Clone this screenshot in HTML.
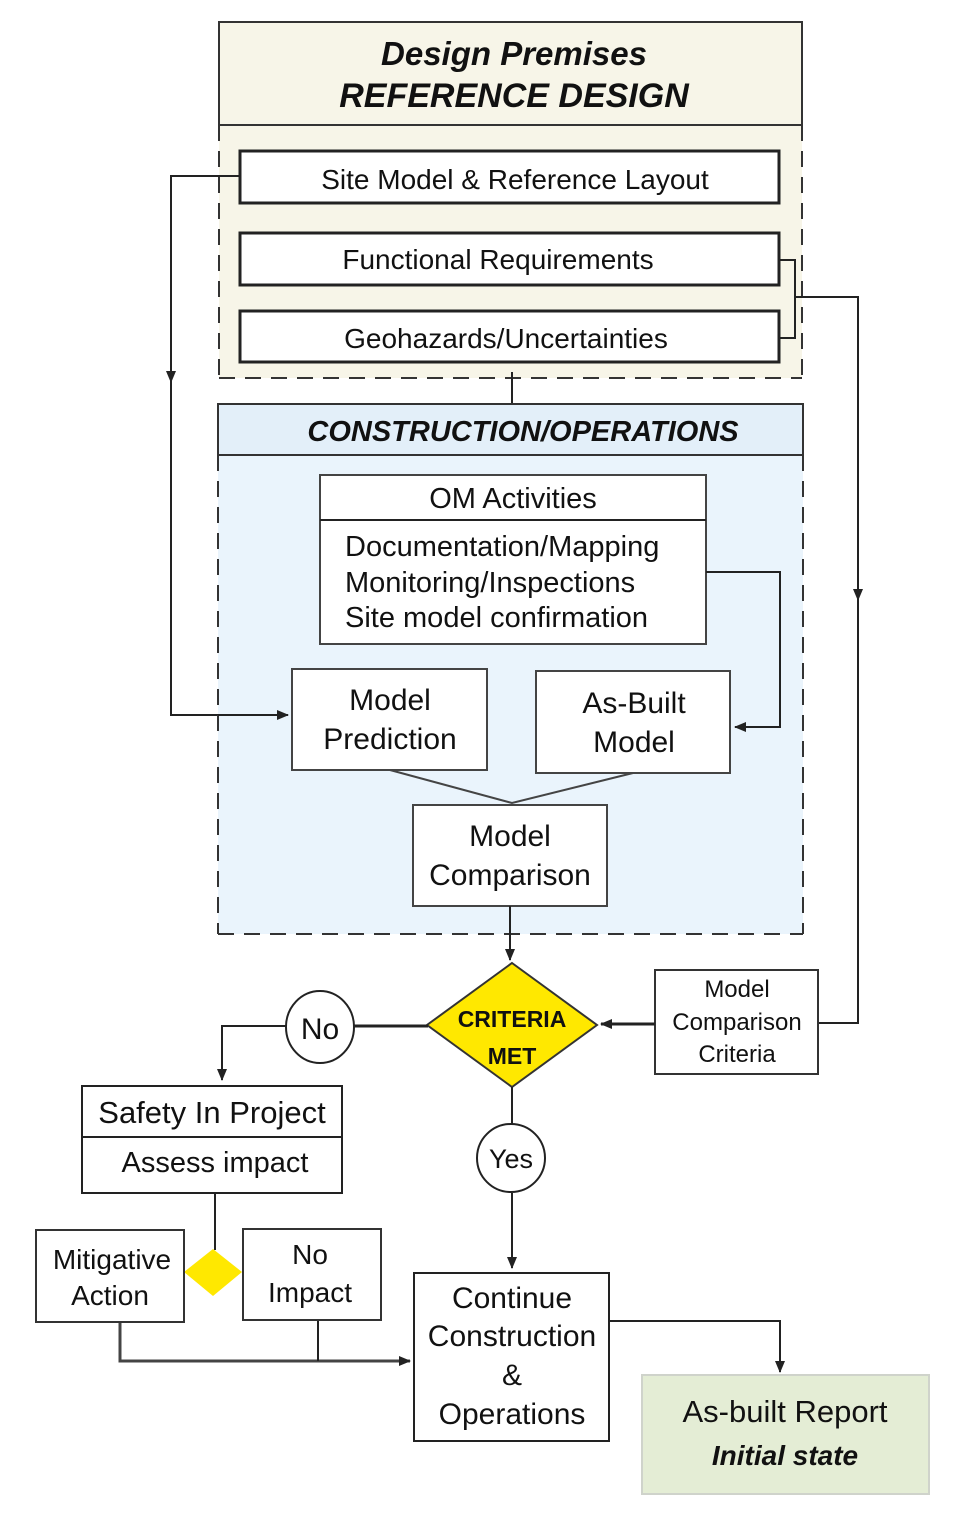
<!DOCTYPE html>
<html><head><meta charset="utf-8"><style>
html,body{margin:0;padding:0;background:#fff}
svg{display:block}
text{font-family:"Liberation Sans",sans-serif;fill:#111}
</style></head><body>
<svg width="967" height="1524" viewBox="0 0 967 1524" xmlns="http://www.w3.org/2000/svg">
<defs><marker id="a" markerWidth="12" markerHeight="10" refX="11" refY="5" orient="auto" markerUnits="userSpaceOnUse"><path d="M0,0 L12,5 L0,10 Z" fill="#222"/></marker></defs>
<!-- Top panel -->
<rect x="219" y="22" width="583" height="356" fill="#f7f5e8"/>
<rect x="219" y="22" width="583" height="103" fill="#f7f5e8" stroke="#333" stroke-width="2"/>
<g stroke="#333" stroke-width="2" stroke-dasharray="16,10" fill="none">
<line x1="219" y1="125" x2="219" y2="378"/><line x1="802" y1="125" x2="802" y2="378"/><line x1="219" y1="378" x2="802" y2="378"/></g>
<text x="514" y="65" font-size="33" font-weight="bold" font-style="italic" text-anchor="middle">Design Premises</text>
<text x="514" y="107" font-size="34" font-weight="bold" font-style="italic" text-anchor="middle">REFERENCE DESIGN</text>
<g fill="#fff" stroke="#222" stroke-width="3">
<rect x="240" y="151" width="539" height="52"/><rect x="240" y="233" width="539" height="52"/><rect x="240" y="311" width="539" height="51"/></g>
<g font-size="28" text-anchor="middle">
<text x="515" y="189">Site Model &amp; Reference Layout</text>
<text x="498" y="269">Functional Requirements</text>
<text x="506" y="348">Geohazards/Uncertainties</text></g>
<g stroke="#222" stroke-width="2" fill="none">
<polyline points="779,260 795,260 795,338 779,338"/>
<polyline points="795,297 858,297 858,1023 818,1023"/>
<line x1="858" y1="580" x2="858" y2="600" marker-end="url(#a)"/>
<polyline points="240,176 171,176 171,715 218,715"/>
<line x1="171" y1="360" x2="171" y2="382" marker-end="url(#a)"/>
<line x1="512" y1="372" x2="512" y2="404"/></g>
<!-- Construction panel -->
<rect x="218" y="404" width="585" height="530" fill="#eaf4fc"/>
<rect x="218" y="404" width="585" height="51" fill="#e3eff9" stroke="#333" stroke-width="2"/>
<g stroke="#333" stroke-width="2" stroke-dasharray="16,10" fill="none">
<line x1="218" y1="455" x2="218" y2="934"/><line x1="803" y1="455" x2="803" y2="934"/><line x1="218" y1="934" x2="803" y2="934"/></g>
<line x1="218" y1="715" x2="288" y2="715" stroke="#222" stroke-width="2" marker-end="url(#a)"/>
<text x="523" y="441" font-size="29" font-weight="bold" font-style="italic" text-anchor="middle">CONSTRUCTION/OPERATIONS</text>
<g fill="#fff" stroke="#444" stroke-width="2">
<rect x="320" y="475" width="386" height="169"/>
<rect x="292" y="669" width="195" height="101"/>
<rect x="536" y="671" width="194" height="102"/>
<rect x="413" y="805" width="194" height="101"/></g>
<line x1="320" y1="520" x2="706" y2="520" stroke="#222" stroke-width="2"/>
<g font-size="29">
<text x="513" y="508" text-anchor="middle">OM Activities</text>
<text x="345" y="556">Documentation/Mapping</text>
<text x="345" y="592">Monitoring/Inspections</text>
<text x="345" y="627">Site model confirmation</text>
<g text-anchor="middle" font-size="30">
<text x="390" y="710">Model</text><text x="390" y="749">Prediction</text>
<text x="634" y="713">As-Built</text><text x="634" y="752">Model</text>
<text x="510" y="846">Model</text><text x="510" y="885">Comparison</text></g></g>
<g stroke="#222" stroke-width="2" fill="none">
<polyline points="706,572 780,572 780,727 735,727" marker-end="url(#a)"/>
<polyline points="390,770 512,803 633,773" stroke="#444"/>
<line x1="510" y1="906" x2="510" y2="960" marker-end="url(#a)"/></g>
<!-- Decision -->
<polygon points="512,963 597,1025 512,1087 427,1025" fill="#ffe800" stroke="#333" stroke-width="2"/>
<text x="512" y="1027" font-size="23" font-weight="bold" text-anchor="middle">CRITERIA</text>
<text x="512" y="1064" font-size="23" font-weight="bold" text-anchor="middle">MET</text>
<rect x="655" y="970" width="163" height="104" fill="#fff" stroke="#333" stroke-width="2"/>
<g font-size="24" text-anchor="middle"><text x="737" y="997">Model</text><text x="737" y="1030">Comparison</text><text x="737" y="1062">Criteria</text></g>
<g stroke="#222" stroke-width="3" fill="none">
<line x1="655" y1="1024" x2="601" y2="1024" marker-end="url(#a)"/>
<line x1="428" y1="1026" x2="354" y2="1026"/>
<polyline points="286,1026 222,1026 222,1080" stroke-width="2" marker-end="url(#a)"/></g>
<ellipse cx="320" cy="1027" rx="34" ry="36" fill="#fff" stroke="#222" stroke-width="2"/>
<text x="320" y="1039" font-size="30" text-anchor="middle">No</text>
<rect x="82" y="1086" width="260" height="107" fill="#fff" stroke="#222" stroke-width="2"/>
<line x1="82" y1="1137" x2="342" y2="1137" stroke="#222" stroke-width="2"/>
<text x="212" y="1123" font-size="31" text-anchor="middle">Safety In Project</text>
<text x="215" y="1172" font-size="29" text-anchor="middle">Assess impact</text>
<g stroke="#222" stroke-width="2" fill="none">
<line x1="215" y1="1193" x2="215" y2="1250"/>
<line x1="512" y1="1087" x2="512" y2="1124"/>
<line x1="512" y1="1193" x2="512" y2="1268" marker-end="url(#a)"/>
<polyline points="120,1322 120,1361 410,1361" stroke="#444" stroke-width="3" marker-end="url(#a)"/>
<line x1="318" y1="1320" x2="318" y2="1361"/>
<polyline points="609,1321 780,1321 780,1372" marker-end="url(#a)"/></g>
<polygon points="213,1249 242,1272 213,1296 184,1272" fill="#ffe800"/>
<rect x="36" y="1230" width="148" height="92" fill="#fff" stroke="#333" stroke-width="2"/>
<rect x="243" y="1229" width="138" height="91" fill="#fff" stroke="#333" stroke-width="2"/>
<g font-size="28" text-anchor="middle">
<text x="112" y="1269">Mitigative</text><text x="110" y="1305">Action</text>
<text x="310" y="1264">No</text><text x="310" y="1302">Impact</text></g>
<ellipse cx="511" cy="1158" rx="34" ry="34" fill="#fff" stroke="#222" stroke-width="2"/>
<text x="511" y="1168" font-size="27" text-anchor="middle">Yes</text>
<rect x="414" y="1273" width="195" height="168" fill="#fff" stroke="#222" stroke-width="2"/>
<g font-size="30" text-anchor="middle">
<text x="512" y="1308">Continue</text><text x="512" y="1346">Construction</text>
<text x="512" y="1385">&amp;</text><text x="512" y="1424">Operations</text></g>
<rect x="642" y="1375" width="287" height="119" fill="#e4edd5" stroke="#cfd3cb" stroke-width="2"/>
<text x="785" y="1422" font-size="31" text-anchor="middle">As-built Report</text>
<text x="785" y="1465" font-size="28" font-weight="bold" font-style="italic" text-anchor="middle">Initial state</text>
</svg>
</body></html>
